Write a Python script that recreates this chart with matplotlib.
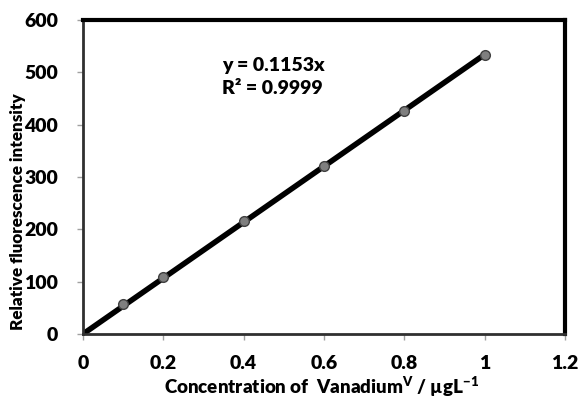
import numpy as np
import matplotlib.pyplot as plt

plt.rcParams['font.family'] = ['Lato', 'DejaVu Sans']
plt.rcParams['font.weight'] = 'heavy'
plt.rcParams['mathtext.fontset'] = 'custom'
plt.rcParams['mathtext.bf'] = 'Lato:heavy'
plt.rcParams['mathtext.rm'] = 'Lato:heavy'

conc = np.array([0.1, 0.2, 0.4, 0.6, 0.8, 1.0])
intensity = np.array([57, 109, 216, 321, 426, 533])
eq_text = "y = 0.1153x"
r2_text = "R² = 0.9999"

# trendline through origin
slope = np.sum(conc * intensity) / np.sum(conc ** 2)
x_fit = np.array([0, conc.max()])

fig = plt.figure(figsize=(5.8, 4), dpi=100)
ax = fig.add_axes([83 / 580, 66 / 400, 482 / 580, 314 / 400])

ax.plot(x_fit, slope * x_fit, color='black', lw=4, zorder=2, solid_capstyle='butt')
ax.plot(conc, intensity, 'o', ms=7, mfc='#7f7f7f', mec='#404040', mew=1, zorder=3)

ax.set_xlim(0, 1.2)
ax.set_ylim(0, 600)
ax.set_xticks([0, 0.2, 0.4, 0.6, 0.8, 1, 1.2])
ax.set_xticklabels(['0', '0.2', '0.4', '0.6', '0.8', '1', '1.2'])
ax.set_yticks(range(0, 601, 100))
ax.tick_params(labelsize=14, length=4, width=1, color='#a0a0a0')
ax.tick_params(axis='x', pad=11)
ax.tick_params(axis='y', pad=14)
for lab in ax.get_xticklabels() + ax.get_yticklabels():
    lab.set_fontweight('heavy')

for s in ['left', 'bottom']:
    ax.spines[s].set_linewidth(2)
    ax.spines[s].set_color('#303030')
for s in ['top', 'right']:
    ax.spines[s].set_linewidth(3)
    ax.spines[s].set_color('black')

ax.set_xlabel('Concentration of  Vanadium$^{\\mathbf{V}}$ / µgL$^{\\mathbf{-1}}$',
              fontsize=13.5, fontweight='heavy', va='center')
ax.xaxis.set_label_coords(0.496, -0.166)
ax.set_ylabel('Relative fluorescence intensity', fontsize=12.3, fontweight='heavy', va='center')
ax.yaxis.set_label_coords(-0.135, 0.39)

ax.text(0.346, 514, eq_text, fontsize=14, fontweight='heavy', va='center')
ax.text(0.346, 470, r2_text, fontsize=14, fontweight='heavy', va='center')

fig.savefig('out.png', dpi=100)
